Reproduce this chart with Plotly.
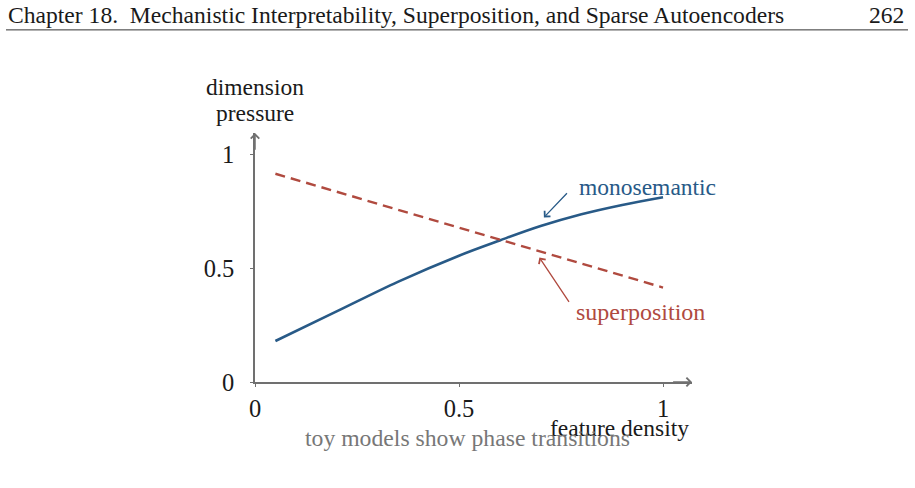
import plotly.graph_objects as go

# ---- data ----
density_mono = [0.05, 0.2, 0.35, 0.5, 0.6, 0.7, 0.8, 0.9, 1.0]
pressure_mono = [0.18, 0.31, 0.44, 0.555, 0.622, 0.685, 0.737, 0.778, 0.812]
density_sup = [0.05, 1.0]
pressure_sup = [0.915, 0.415]
x_ticks = [0, 0.5, 1]
x_tick_labels = ["0", "0.5", "1"]
y_ticks = [0, 0.5, 1]
y_tick_labels = ["0", "0.5", "1"]

W, H = 915, 488
L, R, T, B = 255, 692, 133, 381.7
XMAX, YMAX = 1.071, 1.094

BLUE = "#285a87"
RED = "#b04a3f"
AXIS = "#707070"
FONT = "Liberation Serif"
FS = 23.5


def px(x, y):
    return (x - L) / (R - L), (B - y) / (B - T)


fig = go.Figure()
fig.add_trace(go.Scatter(x=density_mono, y=pressure_mono, mode="lines",
                         line=dict(color=BLUE, width=2.6, shape="spline", smoothing=1.0),
                         hoverinfo="skip", showlegend=False))
fig.add_trace(go.Scatter(x=density_sup, y=pressure_sup, mode="lines",
                         line=dict(color=RED, width=2.4, dash="10px,6px"),
                         hoverinfo="skip", showlegend=False))

ann = []
# axis arrowheads
ann.append(dict(x=XMAX, y=0, ax=XMAX - 0.05, ay=0, xref="x", yref="y", axref="x", ayref="y",
                text="", showarrow=True, arrowhead=4, arrowsize=1.1, arrowwidth=1.5, arrowcolor=AXIS))
ann.append(dict(x=0, y=YMAX, ax=0, ay=YMAX - 0.08, xref="x", yref="y", axref="x", ayref="y",
                text="", showarrow=True, arrowhead=4, arrowsize=1.1, arrowwidth=1.5, arrowcolor=AXIS))
# label arrows
ann.append(dict(x=0.708, y=0.723, ax=0.768, ay=0.836, xref="x", yref="y", axref="x", ayref="y",
                text="", showarrow=True, arrowhead=4, arrowsize=1.2, arrowwidth=1.3, arrowcolor=BLUE))
ann.append(dict(x=0.697, y=0.547, ax=0.772, ay=0.345, xref="x", yref="y", axref="x", ayref="y",
                text="", showarrow=True, arrowhead=4, arrowsize=1.2, arrowwidth=1.3, arrowcolor=RED))
ann.append(dict(x=0.790, y=0.857, xref="x", yref="y", text="monosemantic", showarrow=False,
                xanchor="left", yanchor="middle", font=dict(family=FONT, size=FS, color=BLUE)))
ann.append(dict(x=0.783, y=0.308, xref="x", yref="y", text="superposition", showarrow=False,
                xanchor="left", yanchor="middle", font=dict(family=FONT, size=FS + 0.5, color=RED)))


def text_at(x, y, s, size, color="#1a1a1a", xanchor="center"):
    xp, yp = px(x, y)
    ann.append(dict(x=xp, y=yp, xref="paper", yref="paper", text=s, showarrow=False,
                    xanchor=xanchor, yanchor="middle", font=dict(family=FONT, size=size, color=color)))


text_at(255, 87, "dimension", FS)
text_at(255, 113, "pressure", FS)
text_at(691, 428, "feature density", FS, xanchor="right")
text_at(467, 438, "toy models show phase transitions", FS + 0.2, color="#777777")
text_at(6, 15, "Chapter 18.  Mechanistic Interpretability, Superposition, and Sparse Autoencoders", 23.6,
        xanchor="left")
text_at(906, 15, "262", 23.6, xanchor="right")

x0p, y0p = px(6, 30)
x1p, _ = px(908, 30)
shapes = [dict(type="line", xref="paper", yref="paper", x0=x0p, x1=x1p, y0=y0p, y1=y0p,
               line=dict(color="#333333", width=1))]

fig.update_layout(
    width=W, height=H,
    margin=dict(l=L, r=W - R, t=T, b=H - B, pad=0),
    paper_bgcolor="white", plot_bgcolor="white",
    annotations=ann, shapes=shapes,
    xaxis=dict(range=[0, XMAX], tickvals=x_ticks, ticktext=x_tick_labels, showgrid=False,
               zeroline=False, showline=True, linecolor=AXIS, linewidth=1.5,
               ticks="outside", ticklen=3, tickcolor=AXIS, tickwidth=1,
               tickfont=dict(family=FONT, size=24.5, color="#1a1a1a"), ticklabelstandoff=1),
    yaxis=dict(range=[0, YMAX], tickvals=y_ticks, ticktext=y_tick_labels, showgrid=False,
               zeroline=False, showline=True, linecolor=AXIS, linewidth=1.5,
               ticks="outside", ticklen=3, tickcolor=AXIS, tickwidth=1,
               tickfont=dict(family=FONT, size=24.5, color="#1a1a1a"), ticklabelstandoff=11),
)

fig.write_html("out.html")
